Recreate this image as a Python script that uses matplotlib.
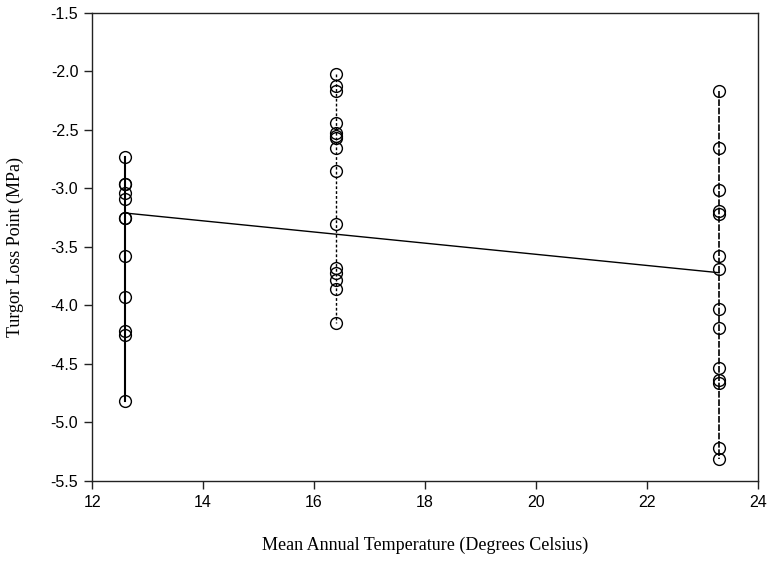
import matplotlib
matplotlib.use("Agg")
from matplotlib import pyplot as plt

# site mean annual temperatures and turgor loss points
temps = [12.6, 16.4, 23.3]
tlp_cold = [-2.73, -2.96, -2.96, -3.04, -3.09, -3.25, -3.25, -3.58, -3.93, -4.22, -4.25, -4.82]
tlp_mid = [-2.02, -2.12, -2.17, -2.44, -2.53, -2.55, -2.57, -2.65, -2.85, -3.30,
           -3.68, -3.72, -3.78, -3.86, -4.15]
tlp_warm = [-2.17, -2.65, -3.01, -3.19, -3.22, -3.58, -3.69, -4.03, -4.19, -4.53,
            -4.64, -4.66, -5.22, -5.31]

# fitted trend line end points
fit_x = [12.6, 23.3]
fit_y = [-3.21, -3.72]

fig = plt.figure(figsize=(7.68, 5.61), dpi=100)
ax = fig.add_axes([0.12, 0.1426, 0.867, 0.8343])

groups = [tlp_cold, tlp_mid, tlp_warm]
styles = ["-", (0, (2, 1.5)), (0, (4, 1))]
widths = [1.5, 1.0, 1.2]
for t, vals, ls, lw in zip(temps, groups, styles, widths):
    xs = [t] * len(vals)
    ax.plot(xs, vals, color="black", linestyle=ls, linewidth=lw, zorder=2)
    ax.plot(xs, vals, linestyle="none", marker="o", markersize=8.5,
            markerfacecolor="none", markeredgecolor="black", markeredgewidth=1.0, zorder=3)

ax.plot(fit_x, fit_y, color="black", linewidth=1.0, zorder=2)

ax.set_xlim(12, 24)
ax.set_ylim(-5.5, -1.5)
ax.set_xticks([12, 14, 16, 18, 20, 22, 24])
ax.set_yticks([-5.5, -5.0, -4.5, -4.0, -3.5, -3.0, -2.5, -2.0, -1.5])
ax.set_yticklabels(["%.1f" % v for v in ax.get_yticks()])

for s in ax.spines.values():
    s.set_linewidth(1.0)
    s.set_color("#222222")

ax.tick_params(direction="out", length=6, width=1.0, color="#222222",
               labelsize=11.5, pad=4)
for lab in ax.get_xticklabels() + ax.get_yticklabels():
    lab.set_family("Liberation Sans")

ax.set_xlabel("Mean Annual Temperature (Degrees Celsius)", family="Liberation Serif",
              fontsize=13, labelpad=19)
ax.set_ylabel("Turgor Loss Point (MPa)", family="Liberation Serif",
              fontsize=13, labelpad=19)

fig.savefig("out.png", dpi=100)
